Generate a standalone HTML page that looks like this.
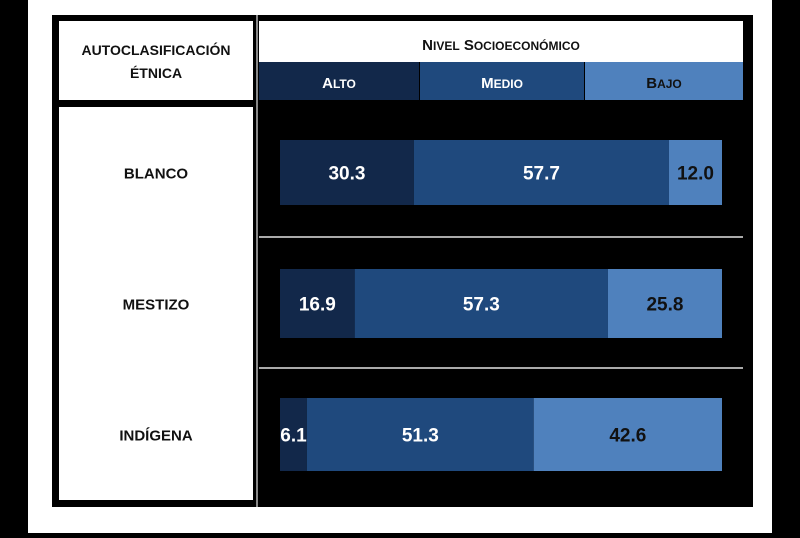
<!DOCTYPE html>
<html><head><meta charset="utf-8"><style>
body{margin:0;width:800px;height:533px;background:#000;overflow:hidden;font-family:"Liberation Sans",sans-serif}
</style></head><body>
<svg width="800" height="533" xmlns="http://www.w3.org/2000/svg">
<rect x="28" y="0" width="744" height="533" fill="#fff"/>
<rect x="52" y="15" width="701" height="492" fill="#000"/>
<rect x="59" y="21" width="194" height="79" fill="#fff"/>
<text x="156" y="55" text-anchor="middle" font-size="14" font-weight="bold" fill="#111">AUTOCLASIFICACIÓN</text>
<text x="156" y="78" text-anchor="middle" font-size="14" font-weight="bold" fill="#111">ÉTNICA</text>
<rect x="59" y="107" width="194" height="393" fill="#fff"/>
<line x1="257" y1="15" x2="257" y2="507" stroke="#888" stroke-width="2"/>
<rect x="259" y="21" width="484" height="41" fill="#fff"/>
<text x="501" y="50" text-anchor="middle" font-size="15" font-weight="bold" fill="#111">N<tspan font-size="12">IVEL</tspan> S<tspan font-size="12">OCIOECONÓMICO</tspan></text>
<rect x="259" y="62" width="160" height="38" fill="#12284a"/>
<rect x="420" y="62" width="164" height="38" fill="#1f497d"/>
<rect x="585" y="62" width="158" height="38" fill="#4f81bd"/>
<text x="339" y="88" text-anchor="middle" font-size="15" font-weight="bold" fill="#fff">A<tspan font-size="12">LTO</tspan></text>
<text x="502" y="88" text-anchor="middle" font-size="15" font-weight="bold" fill="#fff">M<tspan font-size="12">EDIO</tspan></text>
<text x="664" y="88" text-anchor="middle" font-size="15" font-weight="bold" fill="#111">B<tspan font-size="12">AJO</tspan></text>
<line x1="259" y1="237" x2="743" y2="237" stroke="#aaa" stroke-width="2"/>
<line x1="259" y1="368" x2="743" y2="368" stroke="#aaa" stroke-width="2"/>
<g id="bars"></g>
</svg>
<script>
const categories=["BLANCO","MESTIZO","INDÍGENA"];
const alto=[30.3,16.9,6.1];
const medio=[57.7,57.3,51.3];
const bajo=[12.0,25.8,42.6];
const seriesNames=["alto","medio","bajo"];
const NS="http://www.w3.org/2000/svg";
const x0=280,scale=4.42;
const rowTop=[140,269,398],rowH=[65,69,73];
function xs(v){return v*scale;}
const g=document.getElementById('bars');
const svg=g.ownerSVGElement;
const colors=["#12284a","#1f497d","#4f81bd"],tcol=["#fff","#fff","#111"];
categories.forEach((c,i)=>{
  const lab=document.createElementNS(NS,'text');
  
  
  lab.setAttribute('x',156);lab.setAttribute('y',rowTop[i]+rowH[i]/2+6);
  lab.setAttribute('text-anchor','middle');lab.setAttribute('font-size','15');
  lab.setAttribute('font-weight','bold');lab.setAttribute('fill','#111');
  lab.textContent=c;svg.appendChild(lab);
  const vals=[alto[i],medio[i],bajo[i]];
  let x=x0;
  vals.forEach((v,j)=>{
    const r=document.createElementNS(NS,'rect');
    
    
    r.setAttribute('x',x);r.setAttribute('y',rowTop[i]);
    r.setAttribute('width',xs(v));r.setAttribute('height',rowH[i]);
    r.setAttribute('fill',colors[j]);g.appendChild(r);
    const t=document.createElementNS(NS,'text');
    
    
    t.setAttribute('x',x+xs(v)/2);t.setAttribute('y',rowTop[i]+rowH[i]/2+7);
    t.setAttribute('text-anchor','middle');t.setAttribute('font-size','19');
    t.setAttribute('font-weight','bold');t.setAttribute('fill',tcol[j]);
    t.textContent=v.toFixed(1);g.appendChild(t);
    x+=xs(v);
  });
});
</script>
</body></html>
